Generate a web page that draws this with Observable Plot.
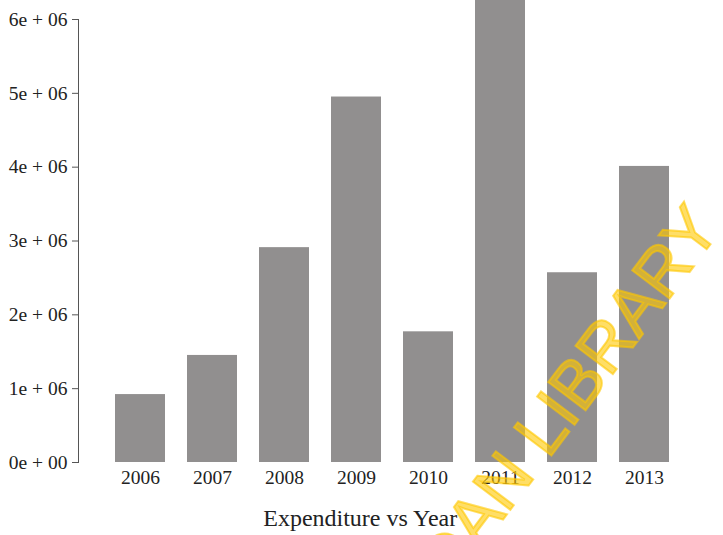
<!DOCTYPE html>
<html>
<head>
<meta charset="utf-8">
<script src="https://cdn.jsdelivr.net/npm/d3@7"></script>
<script src="https://cdn.jsdelivr.net/npm/@observablehq/plot@0.6"></script>
<style>
  html, body { margin: 0; padding: 0; background: #fff; }
  #chart { width: 723px; height: 535px; overflow: hidden; position: relative; }
</style>
</head>
<body>
<div id="chart"></div>
<script>
const years = ["2006", "2007", "2008", "2009", "2010", "2011", "2012", "2013"];
const expenditure = [920000, 1450000, 2910000, 4950000, 1770000, 6300000, 2570000, 4010000];
const yTicks = [0, 1e6, 2e6, 3e6, 4e6, 5e6, 6e6];
const yTickLabels = ["0e + 00", "1e + 06", "2e + 06", "3e + 06", "4e + 06", "5e + 06", "6e + 06"];
const title = "Expenditure vs Year";
const watermarkStart = "DAN ";
const watermarkEnd = "LIBRARY";

const data = years.map((year, i) => ({year, value: expenditure[i]}));

const plot = Plot.plot({
  width: 723,
  height: 535,
  marginTop: 19,
  marginBottom: 73,
  marginLeft: 78,
  marginRight: 17.6,
  style: {fontFamily: "'Liberation Serif', 'DejaVu Serif', serif", background: "#fff", color: "#222"},
  x: {domain: years, paddingInner: 0.31, paddingOuter: 0.5, label: null},
  y: {domain: [0, 6e6], label: null},
  marks: [
    Plot.barY(data, {x: "year", y: "value", fill: "#918f8f"}),
    Plot.axisY({
      ticks: yTicks,
      tickFormat: d => yTickLabels[yTicks.indexOf(d)],
      tickSize: 6,
      tickPadding: 5,
      fontSize: 19.5,
      stroke: "#555",
      fill: "#222",
      label: null
    }),
    Plot.axisX({tickSize: 0, tickPadding: 7.7, fontSize: 19.5, fill: "#222", label: null}),
    Plot.frame({anchor: "left", stroke: "#555"}),
    Plot.text([title], {
      text: d => d,
      frameAnchor: "bottom",
      dx: -32,
      dy: 63,
      lineAnchor: "bottom",
      fontSize: 24,
      fill: "#222"
    })
  ]
});

document.getElementById("chart").appendChild(plot);

// watermark overlay (decorative text)
const svg = d3.select(plot);
const wm = svg.append("g")
  .attr("fill", "#ffc800")
  .attr("fill-opacity", 0.6)
  .attr("stroke", "#ffc800")
  .attr("stroke-opacity", 0.6)
  .attr("stroke-width", 2)
  .attr("paint-order", "stroke")
  .attr("font-family", "'Liberation Sans', Arial, sans-serif")
  .attr("font-size", 68);
wm.append("text")
  .attr("transform", "translate(548,460) rotate(-53)")
  .attr("text-anchor", "start")
  .text(watermarkEnd);
wm.append("text")
  .attr("transform", "translate(548,460) rotate(-53)")
  .attr("text-anchor", "end")
  .style("white-space", "pre")
  .text(watermarkStart);
</script>
</body>
</html>
